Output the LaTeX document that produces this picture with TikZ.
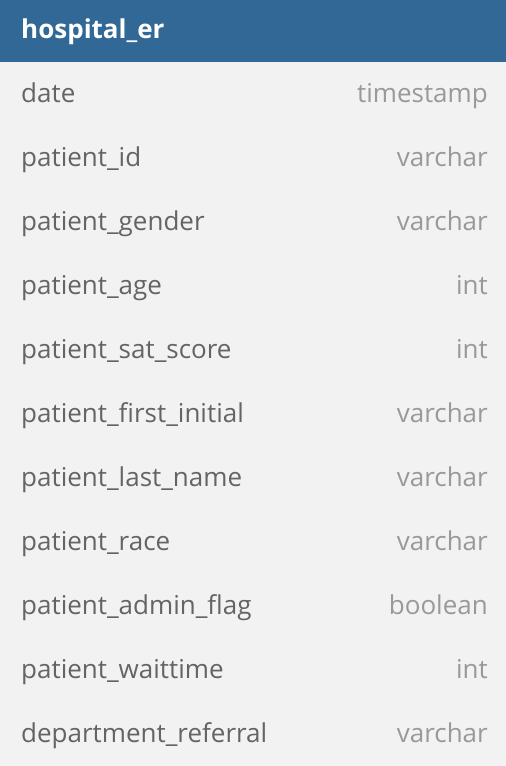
\documentclass[tikz,border=0pt]{standalone}
\usepackage{fontspec}
\setmainfont{Open Sans}
\definecolor{headbg}{HTML}{316896}
\definecolor{rowbg}{HTML}{F2F2F2}
\definecolor{fieldtxt}{HTML}{646464}
\definecolor{typetxt}{HTML}{999999}
\begin{document}
\begin{tikzpicture}[x=1pt,y=-1pt,
  fieldname/.style={anchor=base west,inner sep=0pt,text=fieldtxt,font=\fontsize{26}{31}\selectfont},
  fieldtype/.style={anchor=base east,inner sep=0pt,text=typetxt,font=\fontsize{26}{31}\selectfont},
  title/.style={anchor=base west,inner sep=0pt,text=white,font=\fontsize{26}{31}\selectfont\bfseries}]
\useasboundingbox (0,0) rectangle (506,766);
\fill[rowbg] (0,0) rectangle (506,766);
\fill[headbg] (0,0) rectangle (506,62);
\node[title] (tname) at (21,38) {hospital\_er};
\foreach \i/\n/\t in {0/date/timestamp,1/patient\_id/varchar,2/patient\_gender/varchar,
  3/patient\_age/int,4/patient\_sat\_score/int,5/patient\_first\_initial/varchar,
  6/patient\_last\_name/varchar,7/patient\_race/varchar,8/patient\_admin\_flag/boolean,
  9/patient\_waittime/int,10/department\_referral/varchar}{
  \node[fieldname] (f\i) at (21,{102+64*\i}) {\n};
  \node[fieldtype] (t\i) at (488,{102+64*\i}) {\t};
}
\end{tikzpicture}
\end{document}
